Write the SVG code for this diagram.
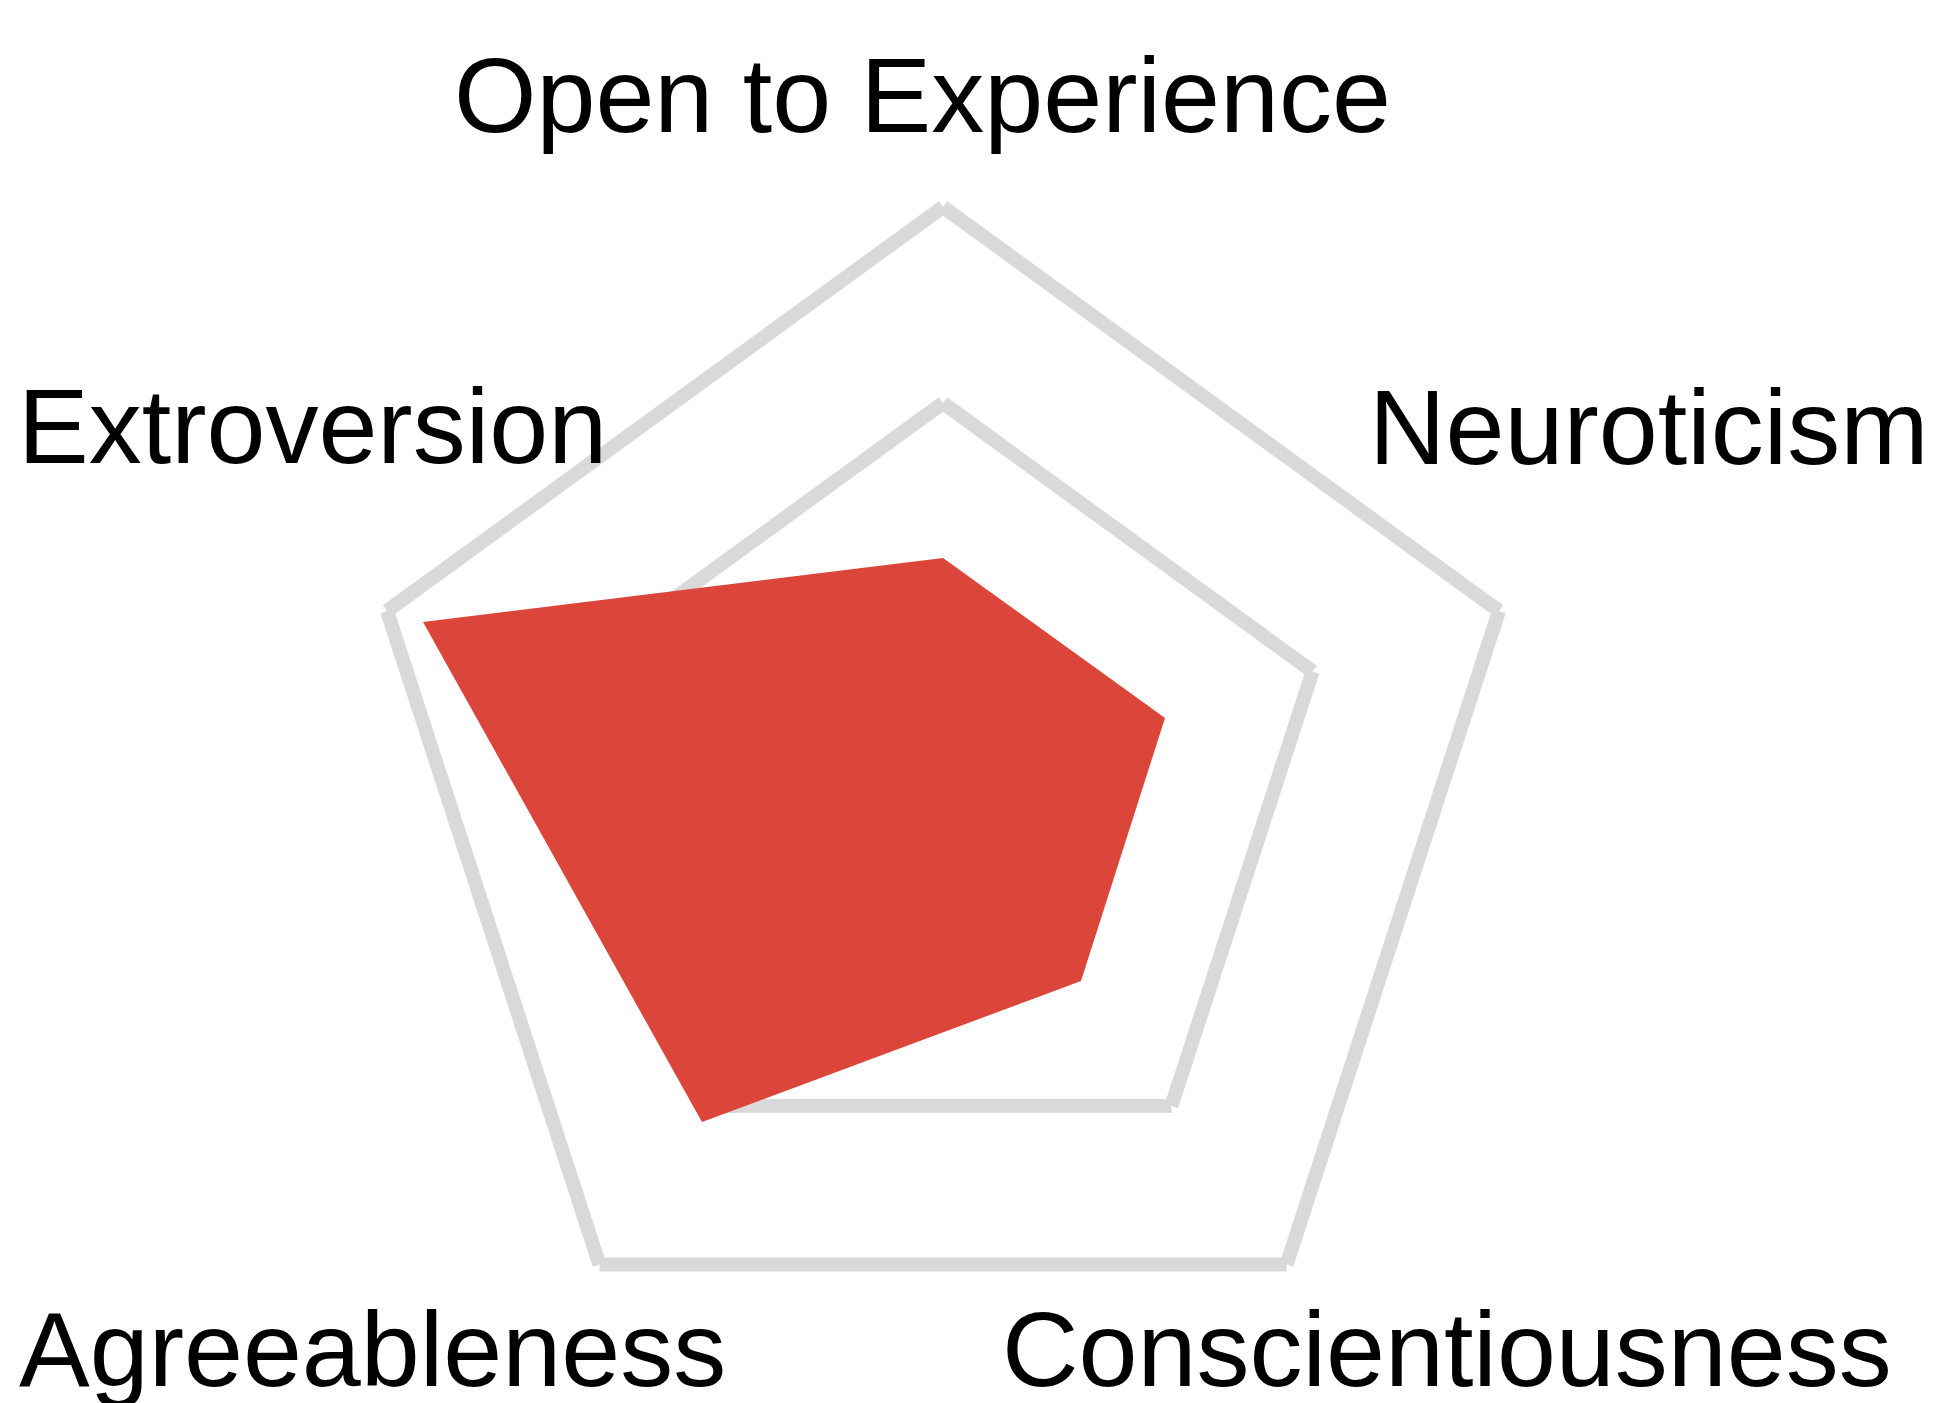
<svg xmlns="http://www.w3.org/2000/svg" width="1935" height="1403" viewBox="0 0 1935 1403">
<style>
.grid line{stroke:#d9d9d9;stroke-width:14;stroke-linecap:butt;fill:none}
.lbl{font-family:"Liberation Sans",Arial,sans-serif;font-size:106px;fill:#000}
</style>
<rect width="1935" height="1403" fill="#fff"/>
<g id="grid" class="grid">
<line x1="943" y1="207" x2="1499" y2="611"/>
<line x1="1499" y1="611" x2="1286.6" y2="1264.5"/>
<line x1="1286.6" y1="1264.5" x2="599.4" y2="1264.5"/>
<line x1="599.4" y1="1264.5" x2="387" y2="611"/>
<line x1="387" y1="611" x2="943" y2="207"/>
<line x1="943" y1="403" x2="1312.6" y2="671.5"/>
<line x1="1312.6" y1="671.5" x2="1171.4" y2="1106"/>
<line x1="1171.4" y1="1106" x2="714.6" y2="1106"/>
<line x1="714.6" y1="1106" x2="573.4" y2="671.5"/>
<line x1="573.4" y1="671.5" x2="943" y2="403"/>
</g>
<g id="data">
<polygon points="943,558 1165,718 1081,981 702,1122 423,622" fill="#dc4539"/>
</g>
<g id="label-open"><text class="lbl" x="454" y="132">Open to Experience</text></g>
<g id="label-extroversion"><text class="lbl" x="18" y="463">Extroversion</text></g>
<g id="label-neuroticism"><text class="lbl" x="1369" y="464">Neuroticism</text></g>
<g id="label-agreeableness"><text class="lbl" x="19" y="1386">Agreeableness</text></g>
<g id="label-conscientiousness"><text class="lbl" x="1002" y="1386">Conscientiousness</text></g>
</svg>
